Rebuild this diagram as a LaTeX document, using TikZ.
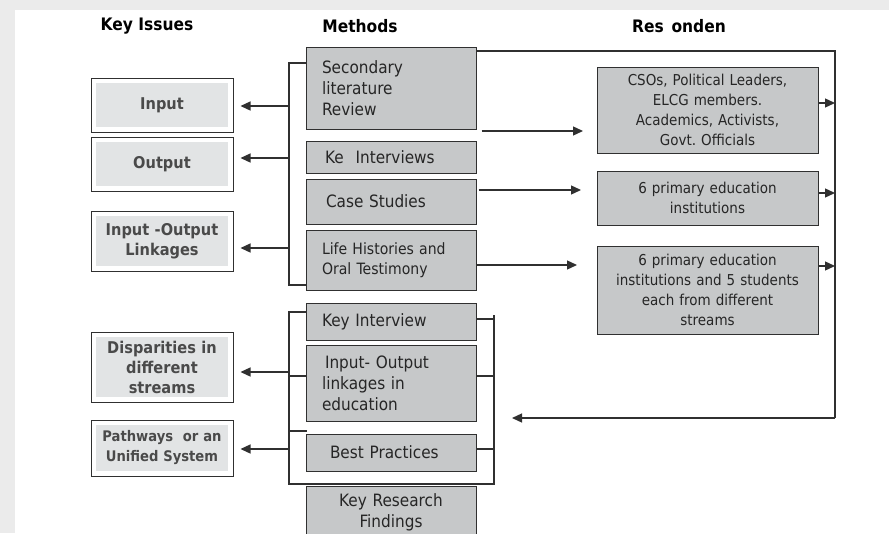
\documentclass[tikz,border=0pt]{standalone}
\usepackage{fontspec}
\setmainfont{DejaVu Sans}[FakeStretch=0.9]
\usetikzlibrary{arrows.meta}
\definecolor{bggray}{HTML}{EBEBEB}
\definecolor{methodfill}{HTML}{C6C8C9}
\definecolor{issuefill}{HTML}{E2E4E5}
\definecolor{linegray}{HTML}{303030}
\definecolor{issuetext}{HTML}{4A4A4A}
\frenchspacing
\begin{document}
\begin{tikzpicture}[x=1pt,y=-1pt]
  \tikzset{
    title/.style={font=\bfseries\fontsize{17.2}{20}\selectfont},
    method/.style={draw=linegray, line width=1pt, fill=methodfill, inner xsep=16pt, inner ysep=0pt,
      text width=138pt, align=left, text=black!85, font=\fontsize{17}{21}\selectfont},
    resp/.style={draw=linegray, line width=1pt, fill=methodfill, inner xsep=8pt, inner ysep=0pt,
      text width=205pt, align=center, text=black!85, font=\fontsize{15}{20}\selectfont},
    issue/.style={draw=linegray, line width=1pt, fill=white, inner xsep=3pt, inner ysep=0pt,
      text width=136pt, align=center, text=issuetext, font=\bfseries\fontsize{16.2}{20}\selectfont,
      path picture={\fill[issuefill] ([shift={(5pt,-5pt)}]path picture bounding box.north west)
        rectangle ([shift={(-5pt,5pt)}]path picture bounding box.south east);}},
    link/.style={draw=linegray, line width=1.3pt},
    arr/.style={link, -{Triangle[length=10pt,width=9pt]}}
  }
  \useasboundingbox[fill=bggray] (0,0) rectangle (889,533);
  \clip (0,0) rectangle (889,533);
  \fill[white] (15,10) rectangle (889,533);
  % column heads
  \node[title] (tissues) at (147,26) {Key Issues};
  \node[title] (tmethods) at (360,26) {Methods};
  \node[title] (tresp) at (679,26) {Res\hspace{0.45em}onden};
  % key issues
  \node[issue, minimum height=54pt] (input) at (162,105) {Input};
  \node[issue, minimum height=54pt] (output) at (162,164) {Output};
  \node[issue, minimum height=60pt] (iolink) at (162,241) {Input -Output\\Linkages};
  \node[issue, minimum height=70pt] (disp) at (162,367) {Disparities in\\different\\streams};
  \node[issue, minimum height=56pt, font=\bfseries\fontsize{14.6}{20}\selectfont] (pathw) at (162,448) {Pathways\ \ or an\\Unified System};
  % methods
  \node[method, minimum height=82pt] (litrev) at (391,88) {Secondary\\literature\\Review};
  \node[method, minimum height=32pt] (keint) at (391,157) {\hspace*{3pt}Ke\hspace{0.7em}Interviews};
  \node[method, minimum height=45pt] (case) at (391,201.5) {\hspace*{4pt}Case Studies};
  \node[method, minimum height=60pt, font=\fontsize{15.6}{20}\selectfont] (life) at (391,260) {Life Histories and\\Oral Testimony};
  \node[method, minimum height=37pt] (keyint) at (391,321.5) {Key Interview};
  \node[method, minimum height=76pt] (ioedu) at (391,383) {\hspace*{3pt}Input- Output\\linkages in\\education};
  \node[method, minimum height=37pt] (best) at (391,452.5) {\hspace*{8pt}Best Practices};
  \node[method, minimum height=53pt, align=center] (findings) at (391,512.5) {Key Research\\Findings};
  % respondents
  \node[resp, minimum height=86pt] (cso) at (707.5,110) {CSOs, Political Leaders,\\ELCG members.\\Academics, Activists,\\Govt. Officials};
  \node[resp, minimum height=54pt] (prim) at (707.5,198) {6 primary education\\institutions};
  \node[resp, minimum height=88pt] (primst) at (707.5,290) {6 primary education\\institutions and 5 students\\each from different\\streams};
  % upper bracket
  \coordinate (ub top) at (289,63);
  \coordinate (ub bot) at (289,285);
  \coordinate (ub1) at (289,106);
  \coordinate (ub2) at (289,158);
  \coordinate (ub3) at (289,248);
  \draw[link] (litrev.west |- ub top) -- (ub top) -- (ub bot) -- (life.west |- ub bot);
  \draw[arr, shorten >=7pt] (ub1) -- (ub1 -| input.east);
  \draw[arr, shorten >=7pt] (ub2) -- (ub2 -| output.east);
  \draw[arr, shorten >=7pt] (ub3) -- (ub3 -| iolink.east);
  % lower bracket
  \coordinate (lb top) at (289,312);
  \coordinate (lb bot) at (289,484);
  \coordinate (rb top) at (494,315);
  \coordinate (rb bot) at (494,484);
  \coordinate (lb1) at (289,372);
  \coordinate (lb2) at (289,449);
  \coordinate (lb mid) at (289,376);
  \coordinate (lb low) at (289,431);
  \coordinate (rb1) at (494,319);
  \coordinate (rb2) at (494,376);
  \coordinate (rb3) at (494,449);
  \draw[link] (keyint.west |- lb top) -- (lb top) -- (lb bot) -- (rb bot) -- (rb top);
  \draw[link] (lb mid) -- (lb mid -| ioedu.west);
  \draw[link] (lb low) -- ([xshift=1pt]lb low -| best.west);
  \draw[link] (rb1 -| keyint.east) -- (rb1);
  \draw[link] (rb2 -| ioedu.east) -- (rb2);
  \draw[link] (rb3 -| best.east) -- (rb3);
  \draw[arr, shorten >=7pt] (lb1) -- (lb1 -| disp.east);
  \draw[arr, shorten >=7pt] (lb2) -- (lb2 -| pathw.east);
  % methods to respondents
  \coordinate (r1) at (583,131);
  \coordinate (r2) at (581,190);
  \coordinate (r3) at (577,265);
  \draw[arr] ([xshift=5pt]r1 -| litrev.east) -- (r1);
  \draw[arr] ([xshift=2pt]r2 -| case.east) -- (r2);
  \draw[arr] (r3 -| life.east) -- (r3);
  % feedback loop
  \coordinate (fb top) at (835,51);
  \coordinate (fb bot) at (835,418);
  \coordinate (fb end) at (512,418);
  \coordinate (fb1) at (835,103);
  \coordinate (fb2) at (835,193);
  \coordinate (fb3) at (835,266);
  \draw[link] (litrev.east |- fb top) -- (fb top) -- (fb bot);
  \draw[arr] (fb bot) -- (fb end);
  \draw[arr] (fb1 -| cso.east) -- (fb1);
  \draw[arr] (fb2 -| prim.east) -- (fb2);
  \draw[arr] (fb3 -| primst.east) -- (fb3);
\end{tikzpicture}
\end{document}
